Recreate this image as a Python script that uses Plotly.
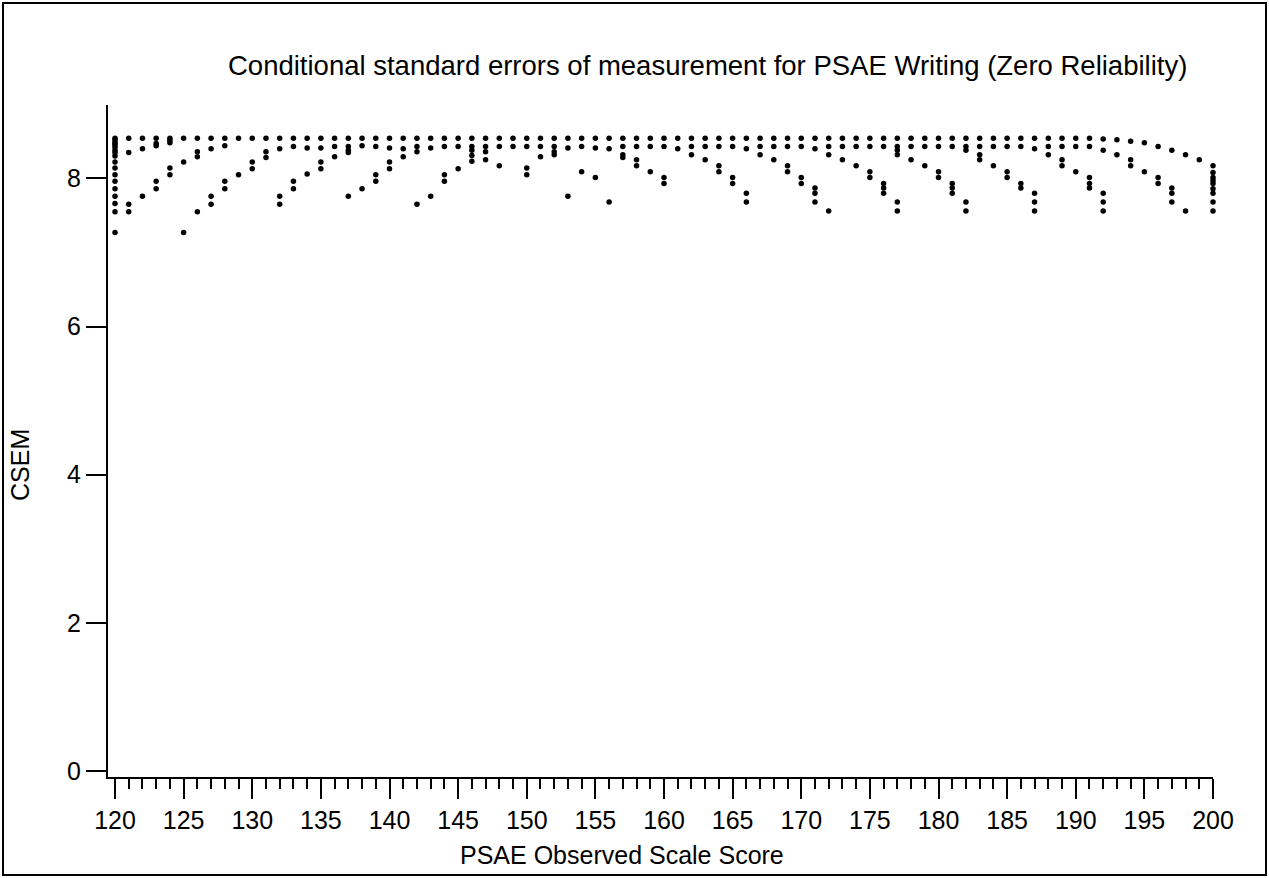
import plotly.graph_objects as go

# ---- data ----
# column at score 120
col120_csem = [8.54, 8.52, 8.49, 8.47, 8.45, 8.42, 8.38, 8.35, 8.30, 8.22, 8.14, 8.05,
               7.96, 7.86, 7.76, 7.66, 7.55, 7.27]
# column at score 200
col200_csem = [8.17, 8.08, 8.01, 7.97, 7.93, 7.86, 7.80, 7.68, 7.56]

# top row (scores 121..199)
top_scores = list(range(121, 200))
top_csem = [8.54] * 71 + [8.53, 8.52, 8.50, 8.48, 8.43, 8.38, 8.32, 8.25]

# remaining points per score, scores 121..198
lower_start = 121
lower_csem = [
    [8.35, 7.65, 7.55],            # 121
    [8.40, 7.76],                  # 122
    [8.47, 8.44, 7.96, 7.86],      # 123
    [8.51, 8.48, 8.14, 8.05],      # 124
    [8.22, 7.27],                  # 125
    [8.36, 8.29, 7.55],            # 126
    [8.40, 7.76, 7.65],            # 127
    [8.44, 7.96, 7.86],            # 128
    [8.05],                        # 129
    [8.22, 8.13],                  # 130
    [8.36, 8.28],                  # 131
    [8.40, 7.76, 7.65],            # 132
    [8.43, 7.96, 7.86],            # 133
    [8.41, 8.06],                  # 134
    [8.41, 8.22, 8.13],            # 135
    [8.43, 8.29],                  # 136
    [8.43, 8.38, 8.35, 7.76],      # 137
    [8.44, 7.86],                  # 138
    [8.43, 8.05, 7.96],            # 139
    [8.41, 8.22, 8.13],            # 140
    [8.40, 8.29],                  # 141
    [8.43, 8.36, 7.65],            # 142
    [8.41, 7.76],                  # 143
    [8.43, 8.05, 7.96],            # 144
    [8.43, 8.13],                  # 145
    [8.43, 8.38, 8.31, 8.23],      # 146
    [8.43, 8.36, 8.25],            # 147
    [8.43, 8.17],                  # 148
    [8.43],                        # 149
    [8.43, 8.14, 8.05],            # 150
    [8.43, 8.29],                  # 151
    [8.43, 8.36, 8.32],            # 152
    [8.41, 7.76],                  # 153
    [8.43, 8.09],                  # 154
    [8.41, 8.01],                  # 155
    [8.40, 7.68],                  # 156
    [8.43, 8.32, 8.28],            # 157
    [8.43, 8.25, 8.17],            # 158
    [8.43, 8.09],                  # 159
    [8.43, 8.01, 7.93],            # 160
    [8.40],                        # 161
    [8.43, 8.32],                  # 162
    [8.43, 8.25],                  # 163
    [8.43, 8.17, 8.09],            # 164
    [8.43, 8.01, 7.93],            # 165
    [8.40, 7.80, 7.68],            # 166
    [8.43, 8.32],                  # 167
    [8.43, 8.25],                  # 168
    [8.43, 8.17, 8.09],            # 169
    [8.43, 8.01, 7.93],            # 170
    [8.40, 7.87, 7.80, 7.68],      # 171
    [8.43, 8.32, 7.56],            # 172
    [8.43, 8.25],                  # 173
    [8.43, 8.17],                  # 174
    [8.43, 8.09, 8.01],            # 175
    [8.43, 7.93, 7.87, 7.80],      # 176
    [8.43, 8.38, 8.32, 7.68, 7.56],  # 177
    [8.43, 8.25],                  # 178
    [8.43, 8.17],                  # 179
    [8.43, 8.09, 8.01],            # 180
    [8.43, 7.93, 7.87, 7.80],      # 181
    [8.43, 8.38, 7.68, 7.56],      # 182
    [8.43, 8.32, 8.25],            # 183
    [8.43, 8.17],                  # 184
    [8.43, 8.09, 8.01],            # 185
    [8.43, 7.93, 7.87],            # 186
    [8.40, 7.80, 7.68, 7.56],      # 187
    [8.43, 8.32],                  # 188
    [8.43, 8.25, 8.17],            # 189
    [8.43, 8.09],                  # 190
    [8.43, 8.01, 7.93, 7.87],      # 191
    [8.38, 7.80, 7.68, 7.56],      # 192
    [8.32],                        # 193
    [8.25, 8.17],                  # 194
    [8.09],                        # 195
    [8.01, 7.93],                  # 196
    [7.87, 7.80, 7.68],            # 197
    [7.56],                        # 198
]

x_ticks = list(range(120, 201, 5))
y_ticks = [0, 2, 4, 6, 8]

title_text = "Conditional standard errors of measurement for PSAE Writing (Zero Reliability)"
x_title = "PSAE Observed Scale Score"
y_title = "CSEM"

# ---- assemble points ----
xs, ys = [], []
xs += [120] * len(col120_csem); ys += col120_csem
xs += top_scores; ys += top_csem
for i, vals in enumerate(lower_csem):
    xs += [lower_start + i] * len(vals); ys += vals
xs += [200] * len(col200_csem); ys += col200_csem

FONT = "Liberation Sans, Arial, Helvetica, sans-serif"

fig = go.Figure(go.Scatter(
    x=xs, y=ys, mode="markers",
    marker=dict(color="black", size=5.5, line=dict(width=0)),
    cliponaxis=False, showlegend=False, hoverinfo="skip",
))

L, R, T, B = 108, 56, 105, 101
W, H = 1269, 878
pw, ph = W - L - R, H - T - B

def px_x(p):
    return (p - L) / pw

def px_y(p):
    return (H - B - p) / ph

fig.update_layout(
    width=W, height=H,
    margin=dict(l=L, r=R, t=T, b=B, pad=0),
    paper_bgcolor="white", plot_bgcolor="white",
    font=dict(family=FONT, color="black", size=25),
    xaxis=dict(
        range=[119.49, 200.0], tickvals=x_ticks, ticks="outside", ticklen=20,
        tickwidth=2, tickcolor="black", showline=True, linewidth=2, linecolor="black",
        showgrid=False, zeroline=False, tickfont=dict(size=25),
        minor=dict(tick0=120, dtick=1, ticks="outside", ticklen=10, tickwidth=2,
                   tickcolor="black", showgrid=False),
    ),
    yaxis=dict(
        range=[-0.08, 8.99], tickvals=y_ticks, ticks="outside", ticklen=20,
        tickwidth=2, tickcolor="black", showline=True, linewidth=2, linecolor="black",
        showgrid=False, zeroline=False, tickfont=dict(size=25),
    ),
    annotations=[
        dict(text=title_text, x=px_x(707), y=px_y(65), xref="paper", yref="paper",
             showarrow=False, font=dict(size=27.5), xanchor="center", yanchor="middle"),
        dict(text=x_title, x=px_x(622), y=px_y(855), xref="paper", yref="paper",
             showarrow=False, font=dict(size=25), xanchor="center", yanchor="middle"),
        dict(text=y_title, x=px_x(20), y=px_y(465), xref="paper", yref="paper",
             showarrow=False, font=dict(size=25), textangle=-90,
             xanchor="center", yanchor="middle"),
    ],
    shapes=[
        dict(type="rect", xref="paper", yref="paper",
             x0=px_x(3), x1=px_x(W - 3), y0=px_y(H - 3), y1=px_y(3),
             line=dict(color="black", width=2), fillcolor="rgba(0,0,0,0)", layer="below"),
    ],
)

fig.write_html(
    "out.html",
    config={"displayModeBar": False, "staticPlot": True},
    post_script="document.body.style.margin='0';document.body.style.overflow='hidden';",
)
